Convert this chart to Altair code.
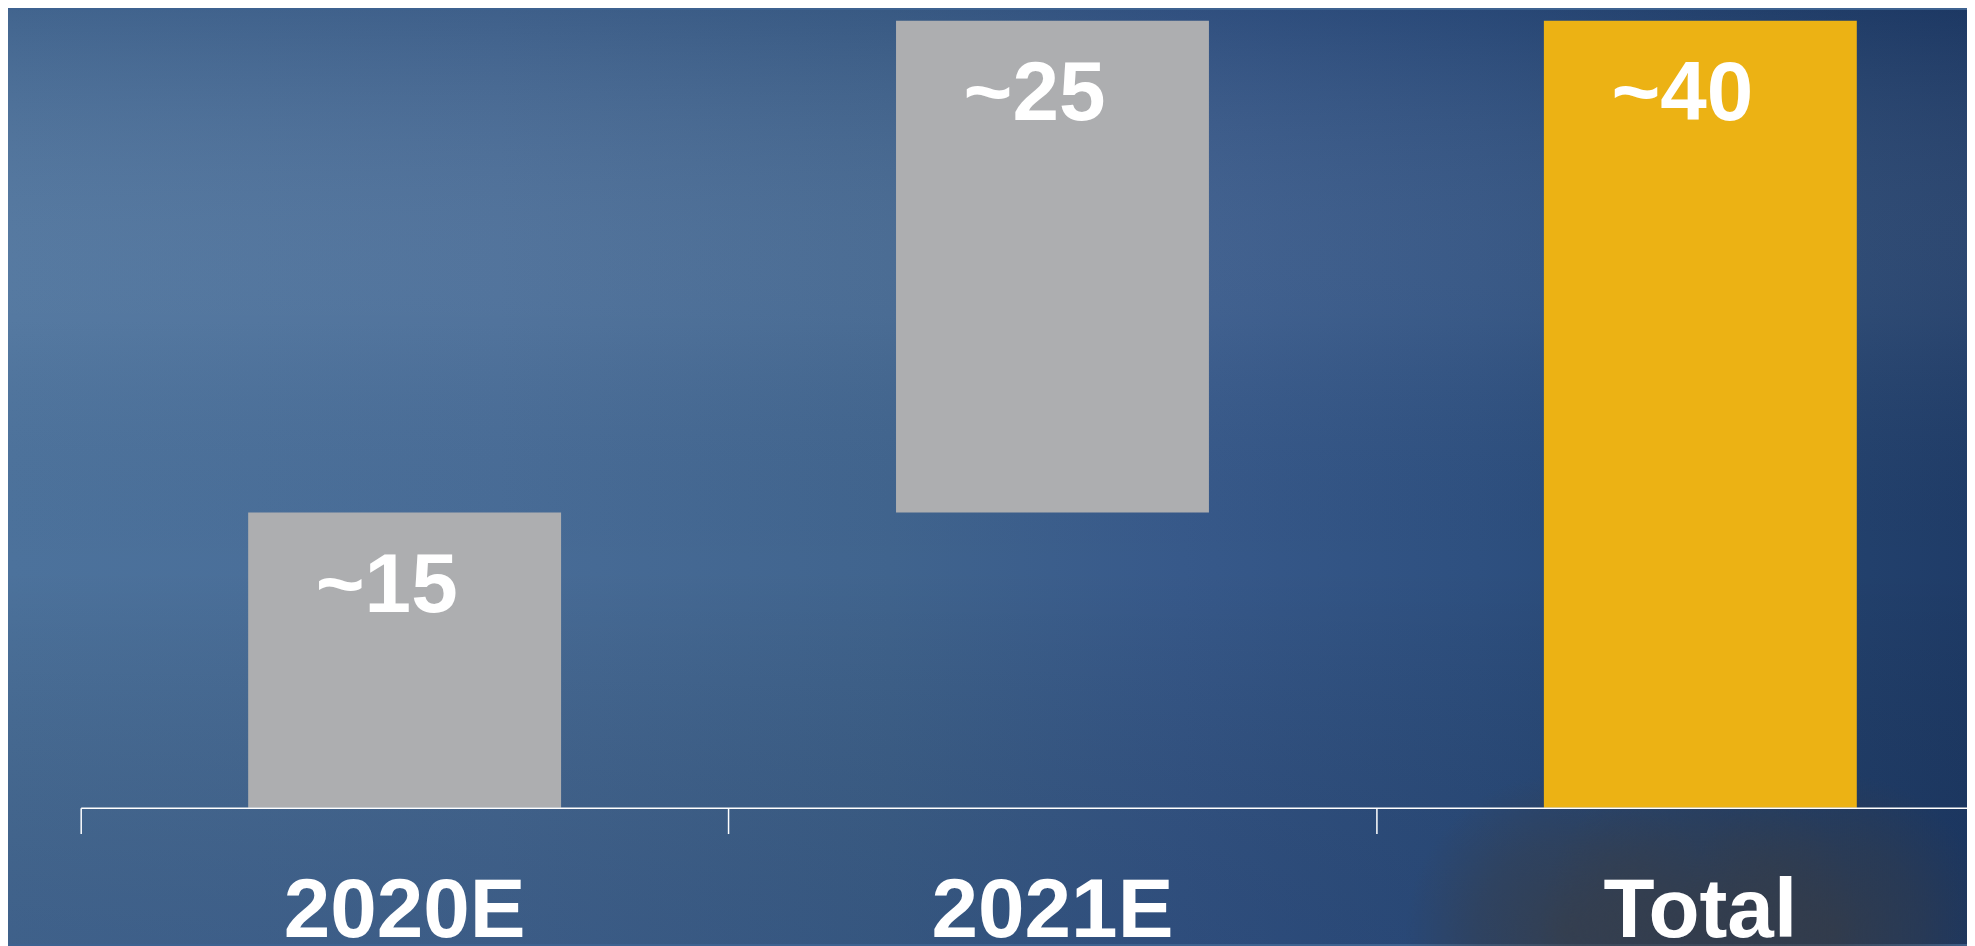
import altair as alt
import pandas as pd

# ---- data -------------------------------------------------------------
categories = ["2020E", "2021E", "Total"]
increments = [15, 25, 40]
is_total = [False, False, True]
bar_labels = ["~15", "~25", "~40"]

starts, ends = [], []
running = 0
for v, t in zip(increments, is_total):
    if t:
        starts.append(0)
        ends.append(v)
    else:
        starts.append(running)
        ends.append(running + v)
        running += v

df = pd.DataFrame({"category": categories, "start": starts, "end": ends, "label": bar_labels})

# ---- layout -------------------------------------------------------------
PW, PH = 1894, 790
PAD_L, PAD_T, PAD_R, PAD_B = 73, 11, 0, 137
STEP = 650.5
FONT = "Liberation Sans"

x_scale = alt.Scale(domain=categories, range=[0, STEP * len(categories)],
                    paddingInner=0, paddingOuter=0)
x_axis = alt.Axis(
    title=None, labelAngle=0, bandPosition=0,
    domainColor="white", domainWidth=1.5, domainOpacity=1,
    tickColor="white", tickWidth=1.5, tickSize=26, tickOpacity=1,
    labelFont=FONT, labelFontSize=84, labelFontWeight="bold", labelColor="white",
    labelBaseline="alphabetic", labelPadding=103, labelFlush=False, labelOverlap=False,
    labelLimit=0, grid=False, zindex=2,
)
y_scale = alt.Scale(domain=[0, 40], nice=False, zero=True)

base = alt.Chart(df)

bars = base.mark_bar(width=alt.RelativeBandSize(0.483), clip=False).encode(
    x=alt.X("category:N", sort=categories, scale=x_scale, axis=x_axis),
    y=alt.Y("end:Q", scale=y_scale, axis=None),
    y2="start:Q",
    color=alt.Color("category:N", scale=alt.Scale(domain=categories,
                    range=["#adaeb0", "#adaeb0", "#ecb214"]), legend=None),
)

texts = base.mark_text(font=FONT, fontSize=84, fontWeight="bold", color="white",
                       baseline="alphabetic", align="center", dx=-18, dy=100).encode(
    x=alt.X("category:N", sort=categories, scale=x_scale),
    y=alt.Y("end:Q", scale=y_scale),
    text="label:N",
)

# ---- background decoration ----------------------------------------------
one = alt.Data(values=[{"k": 0}])
full = dict(x=alt.value(-PAD_L), x2=alt.value(PW + PAD_R),
            y=alt.value(-PAD_T), y2=alt.value(PH + PAD_B))

bg_base = alt.Chart(one).mark_rect(clip=False, fill=alt.Gradient(
    gradient="linear", x1=0, x2=1, y1=0, y2=0,
    stops=[
        alt.GradientStop(offset=0.0, color="#4c729c"),
        alt.GradientStop(offset=0.25, color="#486c97"),
        alt.GradientStop(offset=0.45, color="#40648e"),
        alt.GradientStop(offset=0.6, color="#37598a"),
        alt.GradientStop(offset=0.75, color="#2e5080"),
        alt.GradientStop(offset=0.9, color="#254470"),
        alt.GradientStop(offset=1.0, color="#1f3c68"),
    ])).encode(**full)

bg_vert = alt.Chart(one).mark_rect(clip=False, fill=alt.Gradient(
    gradient="linear", x1=0, x2=0, y1=0, y2=1,
    stops=[
        alt.GradientStop(offset=0.0, color="rgba(20,40,80,0.18)"),
        alt.GradientStop(offset=0.33, color="rgba(255,255,255,0.05)"),
        alt.GradientStop(offset=0.6, color="rgba(0,0,0,0)"),
        alt.GradientStop(offset=1.0, color="rgba(15,35,75,0.22)"),
    ])).encode(**full)


def blob(cx, cy, r):
    return alt.Chart(one).mark_rect(clip=False, fill=alt.Gradient(
        gradient="radial", x1=0.5, y1=0.5, r1=0, x2=0.5, y2=0.5, r2=0.5,
        stops=[
            alt.GradientStop(offset=0.0, color="rgba(60,60,62,0.6)"),
            alt.GradientStop(offset=0.55, color="rgba(60,60,62,0.35)"),
            alt.GradientStop(offset=1.0, color="rgba(60,60,62,0)"),
        ])).encode(x=alt.value(cx - r), x2=alt.value(cx + r),
                   y=alt.value(cy - r), y2=alt.value(cy + r))


blobs = [blob(1490, 915, 160), blob(1625, 905, 160), blob(1760, 915, 160)]

chart = alt.layer(bg_base, bg_vert, *blobs, bars, texts).properties(
    width=PW, height=PH,
    autosize=alt.AutoSizeParams(type="none"),
    padding={"left": PAD_L, "top": PAD_T, "right": PAD_R, "bottom": PAD_B},
    background="#3d6290",
).configure_view(stroke=None)

chart.save("out.html", embed_options={"renderer": "svg", "actions": False})
